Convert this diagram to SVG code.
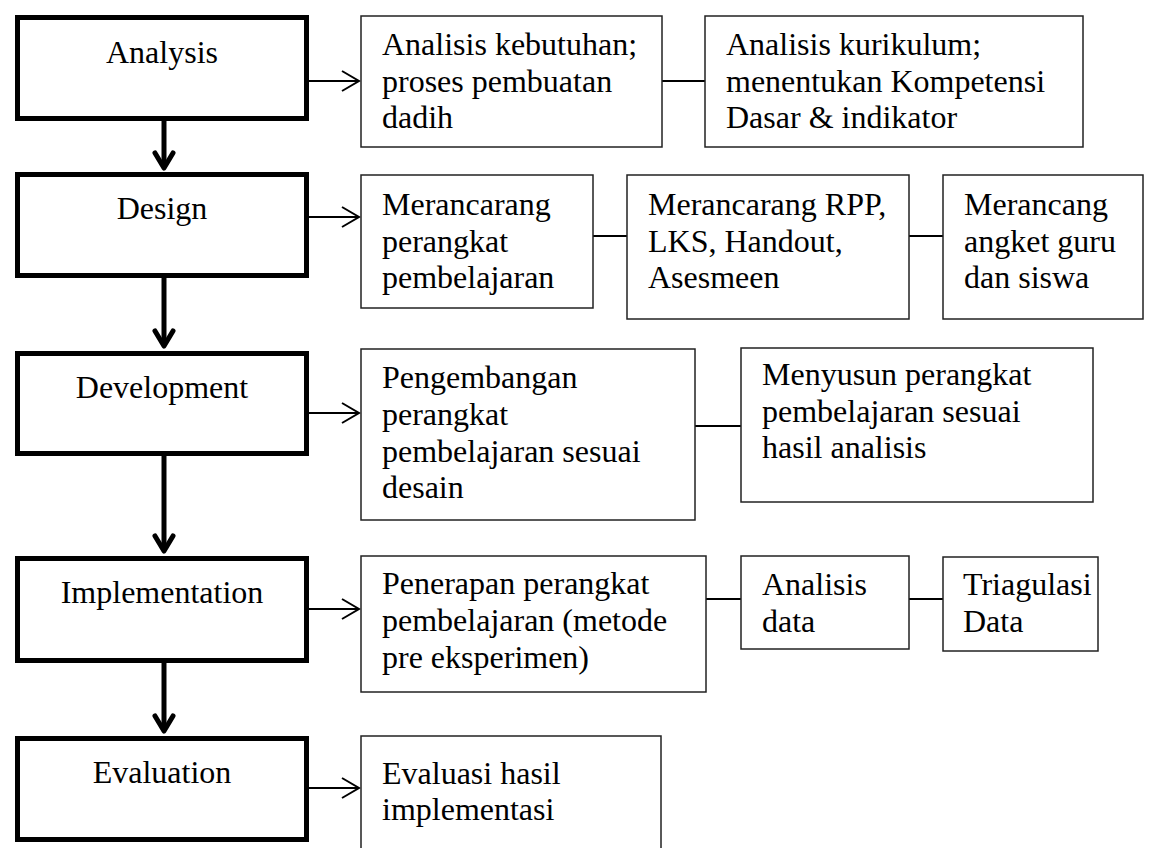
<svg xmlns="http://www.w3.org/2000/svg" width="1155" height="848" viewBox="0 0 1155 848">
<defs>
<style>
.main{fill:#fff;stroke:#000;stroke-width:5}
.sub{fill:#fff;stroke:#222;stroke-width:1.5}
text{font-family:"Liberation Serif","Times New Roman",serif;font-size:32px;fill:#000}
.c{text-anchor:middle}
.conn{stroke:#000;stroke-width:2;fill:none}
.down{stroke:#000;stroke-width:5;fill:none}
.head{stroke:#000;stroke-width:2;fill:none}
.dhead{stroke:#000;stroke-width:5;fill:none;stroke-linecap:round;stroke-linejoin:round}
</style>
</defs>
<rect width="1155" height="848" fill="#fff"/>

<g id="connectors">
  <line class="down" x1="164" y1="121" x2="164" y2="168"/>
  <polyline class="dhead" points="155,153 164,168 173,153"/>
  <line class="down" x1="164" y1="278" x2="164" y2="346"/>
  <polyline class="dhead" points="155,331 164,346 173,331"/>
  <line class="down" x1="164" y1="456" x2="164" y2="551"/>
  <polyline class="dhead" points="155,536 164,551 173,536"/>
  <line class="down" x1="164" y1="663" x2="164" y2="731"/>
  <polyline class="dhead" points="155,716 164,731 173,716"/>
  <line class="conn" x1="309" y1="81" x2="359" y2="81"/>
  <polyline class="head" points="342,71 359,81 342,91"/>
  <line class="conn" x1="309" y1="217" x2="359" y2="217"/>
  <polyline class="head" points="342,207 359,217 342,227"/>
  <line class="conn" x1="309" y1="413" x2="359" y2="413"/>
  <polyline class="head" points="342,403 359,413 342,423"/>
  <line class="conn" x1="309" y1="609" x2="359" y2="609"/>
  <polyline class="head" points="342,599 359,609 342,619"/>
  <line class="conn" x1="309" y1="788" x2="359" y2="788"/>
  <polyline class="head" points="342,778 359,788 342,798"/>
  <line class="conn" x1="662" y1="81" x2="705" y2="81"/>
  <line class="conn" x1="593" y1="236" x2="627" y2="236"/>
  <line class="conn" x1="909" y1="236" x2="943" y2="236"/>
  <line class="conn" x1="695" y1="426" x2="741" y2="426"/>
  <line class="conn" x1="706" y1="599" x2="741" y2="599"/>
  <line class="conn" x1="909" y1="599" x2="943" y2="599"/>
</g>

<g id="analysis">
  <rect class="main" x="17.5" y="17.5" width="289" height="101"/>
  <text class="c" x="162" y="63">Analysis</text>
</g>
<g id="design">
  <rect class="main" x="17.5" y="174.5" width="289" height="101"/>
  <text class="c" x="162" y="219">Design</text>
</g>
<g id="development">
  <rect class="main" x="17.5" y="353.5" width="289" height="100"/>
  <text class="c" x="162" y="398">Development</text>
</g>
<g id="implementation">
  <rect class="main" x="17.5" y="558.5" width="289" height="102"/>
  <text class="c" x="162" y="603">Implementation</text>
</g>
<g id="evaluation">
  <rect class="main" x="17.5" y="738.5" width="289" height="101"/>
  <text class="c" x="162" y="783">Evaluation</text>
</g>

<g id="analisis-kebutuhan">
  <rect class="sub" x="361" y="16" width="301" height="131"/>
  <text x="382" y="55">Analisis kebutuhan;</text>
  <text x="382" y="92">proses pembuatan</text>
  <text x="382" y="128">dadih</text>
</g>
<g id="analisis-kurikulum">
  <rect class="sub" x="705" y="16" width="378" height="131"/>
  <text x="726" y="55">Analisis kurikulum;</text>
  <text x="726" y="92">menentukan Kompetensi</text>
  <text x="726" y="128">Dasar &amp; indikator</text>
</g>

<g id="merancarang-perangkat">
  <rect class="sub" x="361" y="175" width="232" height="133"/>
  <text x="382" y="215">Merancarang</text>
  <text x="382" y="252">perangkat</text>
  <text x="382" y="288">pembelajaran</text>
</g>
<g id="merancarang-rpp">
  <rect class="sub" x="627" y="175" width="282" height="144"/>
  <text x="648" y="215">Merancarang RPP,</text>
  <text x="648" y="252">LKS, Handout,</text>
  <text x="648" y="288">Asesmeen</text>
</g>
<g id="merancang-angket">
  <rect class="sub" x="943" y="175" width="200" height="144"/>
  <text x="964" y="215">Merancang</text>
  <text x="964" y="252">angket guru</text>
  <text x="964" y="288">dan siswa</text>
</g>

<g id="pengembangan">
  <rect class="sub" x="361" y="349" width="334" height="171"/>
  <text x="382" y="388">Pengembangan</text>
  <text x="382" y="425">perangkat</text>
  <text x="382" y="462">pembelajaran sesuai</text>
  <text x="382" y="498">desain</text>
</g>
<g id="menyusun">
  <rect class="sub" x="741" y="348" width="352" height="154"/>
  <text x="762" y="385">Menyusun perangkat</text>
  <text x="762" y="422">pembelajaran sesuai</text>
  <text x="762" y="458">hasil analisis</text>
</g>

<g id="penerapan">
  <rect class="sub" x="361" y="556" width="345" height="136"/>
  <text x="382" y="594">Penerapan perangkat</text>
  <text x="382" y="631">pembelajaran (metode</text>
  <text x="382" y="668">pre eksperimen)</text>
</g>
<g id="analisis-data">
  <rect class="sub" x="741" y="556" width="168" height="93"/>
  <text x="762" y="595">Analisis</text>
  <text x="762" y="632">data</text>
</g>
<g id="triagulasi">
  <rect class="sub" x="943" y="557" width="155" height="94"/>
  <text x="963" y="595">Triagulasi</text>
  <text x="963" y="632">Data</text>
</g>

<g id="evaluasi">
  <rect class="sub" x="361" y="736" width="300" height="120"/>
  <text x="382" y="784">Evaluasi hasil</text>
  <text x="382" y="820">implementasi</text>
</g>
</svg>
